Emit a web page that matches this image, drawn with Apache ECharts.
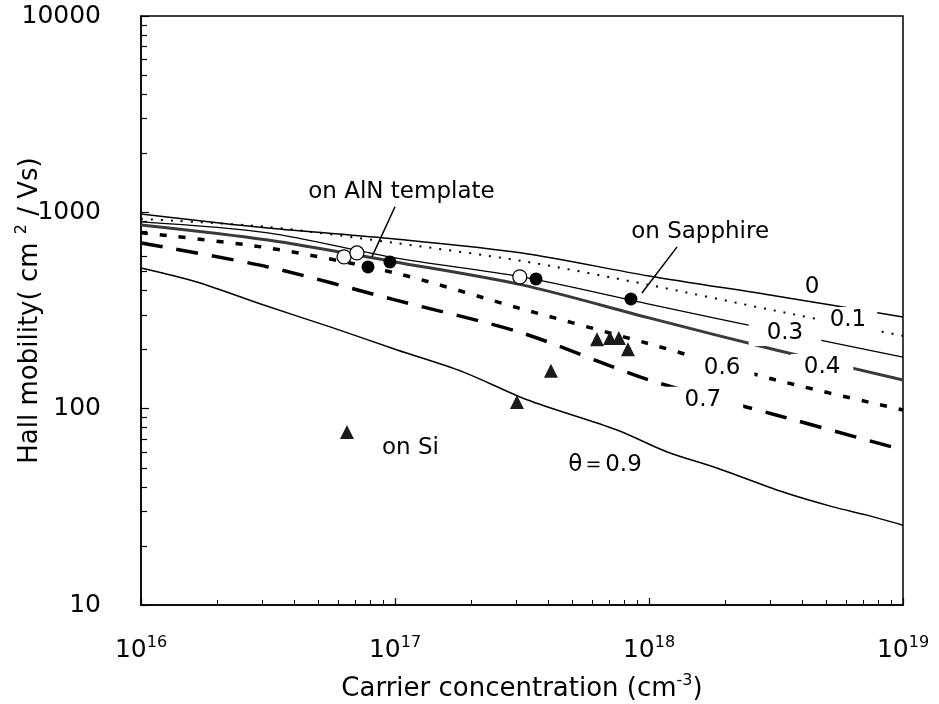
<!DOCTYPE html>
<html>
<head>
<meta charset="utf-8">
<script src="https://cdn.jsdelivr.net/npm/echarts@6/dist/echarts.min.js"></script>
<style>html,body{margin:0;padding:0;background:#fff}#c{width:939px;height:704px}</style>
</head>
<body>
<div id="c"></div>
<script>
// ---- data ----
const conc = [1e16, 3.162e16, 1e17, 3.162e17, 1e18, 3.162e18, 1e19];
const muTheta0  = [982, 832, 732, 621, 474, 375, 293];
const muTheta01 = [925, 842, 698, 565, 427, 315, 235];
const muTheta03 = [894, 786, 586, 469, 341, 249, 183];
const muTheta04 = [863, 723, 559, 427, 290, 199, 140];
const muTheta06 = [786, 659, 491, 322, 214, 140, 98.5];
const muTheta07 = [698, 527, 358, 243, 140, 92.9, 61.6];
const conc09 = [1e16, 1.66e16, 3.02e16, 5.55e16, 1.02e17, 1.85e17, 3.31e17, 7.48e17, 1.18e18, 1.85e18, 3.37e18, 5.30e18, 7.21e18, 1e19];
const muTheta09 = [521, 442, 338, 261, 199, 154, 111, 77.9, 60.2, 49.9, 37.6, 31.6, 28.7, 25.5];

const alnConc = [6.30e16, 7.08e16, 3.10e17];
const alnMu   = [593, 621, 469];
const sapConc = [7.83e16, 9.55e16, 3.59e17, 8.49e17];
const sapMu   = [527, 559, 458, 362];
const siConc  = [6.47e16, 3.02e17, 4.11e17, 6.24e17, 7.02e17, 7.61e17, 8.26e17];
const siMu    = [76.1, 108, 156, 226, 229, 229, 201];

const xTickExp = [16, 17, 18, 19];
const yTickLabels = ['10', '100', '1000', '10000'];

// annotation texts (anchor in data space)
const curveLabelText = ['0', '0.1', '0.3', '0.4', '0.6', '0.7', 'θ＝0.9', 'on Si', 'on AlN template', 'on Sapphire'];
const curveLabelConc = [4.39e18, 6.07e18, 3.43e18, 4.80e18, 1.94e18, 1.63e18, 6.71e17, 1.15e17, 1.06e17, 1.59e18];
const curveLabelMu   = [417, 283, 243, 163, 161, 111, 51.6, 63, 1270, 794];
const curveLabelPad  = [0, 11, 18, 13, 14, 22, 0, 0, 0, 0];

const pointerFrom = [[1e17, 1067], [1.29e18, 667]];
const pointerTo   = [[8.11e16, 593], [9.38e17, 388]];

// ---- build ----
const FONT = 'DejaVu Sans';
const pairs = (xs, ys) => xs.map((x, i) => [x, ys[i]]);
const minorX = [], minorY = [];
for (let d = 16; d < 19; d++) for (let k = 2; k <= 9; k++) minorX.push(d + Math.log10(k));
for (let d = 1; d < 4; d++) for (let k = 2; k <= 9; k++) minorY.push(d + Math.log10(k));

function lineSeries(name, xs, ys, style) {
  return {
    name, type: 'line', xAxisIndex: 0, yAxisIndex: 0,
    data: pairs(xs, ys), showSymbol: false, symbol: 'none', smooth: 0.3,
    lineStyle: Object.assign({ color: '#000', width: 1.5 }, style), z: 2, silent: true
  };
}

const labelData = curveLabelText.map((t, i) => ({
  value: [curveLabelConc[i], curveLabelMu[i]], name: t,
  label: {
    padding: [1, curveLabelPad[i]],
    backgroundColor: curveLabelPad[i] > 0 ? '#fff' : 'transparent'
  }
}));

const supRich = (base) => ({
  b: { fontSize: base, fontFamily: FONT, color: '#000', lineHeight: base + 6 },
  s: { fontSize: Math.round(base * 0.62), fontFamily: FONT, color: '#000', verticalAlign: 'top', lineHeight: Math.round(base * 0.62) + 1 }
});

const option = {
  animation: false,
  backgroundColor: '#fff',
  textStyle: { fontFamily: FONT },
  grid: { left: 141, right: 36, top: 16, bottom: 99, outerBoundsMode: 'none', containLabel: false, show: true, borderColor: '#000', borderWidth: 1.5, backgroundColor: 'transparent' },
  xAxis: [{
    type: 'log', logBase: 10, min: 1e16, max: 1e19, gridIndex: 0,
    axisLine: { lineStyle: { color: '#000', width: 1.5 } },
    axisTick: { inside: true, length: 7, lineStyle: { color: '#000', width: 1.2 } },
    splitLine: { show: false },
    axisLabel: {
      margin: 30, color: '#000',
      formatter: v => { const e = Math.round(Math.log10(v)); return xTickExp.includes(e) ? '{b|10}{s|' + e + '}' : ''; },
      rich: supRich(25)
    },
    name: '{b|Carrier concentration (cm}{s|-3}{b|)}', nameLocation: 'middle', nameGap: 68, nameMoveOverlap: false,
    nameTextStyle: { rich: supRich(26) }
  }, {
    type: 'value', min: 16, max: 19, gridIndex: 0, position: 'bottom',
    axisLine: { show: false }, axisLabel: { show: false }, splitLine: { show: false },
    axisTick: { show: true, inside: true, length: 5, customValues: minorX, lineStyle: { color: '#000', width: 1 } }
  }],
  yAxis: [{
    type: 'log', logBase: 10, min: 10, max: 10000, gridIndex: 0,
    axisLine: { lineStyle: { color: '#000', width: 1.5 } },
    axisTick: { inside: true, length: 8, lineStyle: { color: '#000', width: 1.2 } },
    splitLine: { show: false },
    axisLabel: {
      margin: 40, color: '#000', fontSize: 25, fontFamily: FONT,
      formatter: v => { const i = Math.round(Math.log10(v)) - 1; return yTickLabels[i] || ''; }
    },
    name: '{b|Hall mobility( cm }{s|2}{b| / Vs)}', nameLocation: 'middle', nameGap: 95, nameRotate: 90, nameMoveOverlap: false,
    nameTextStyle: { rich: supRich(26) }
  }, {
    type: 'value', min: 1, max: 4, gridIndex: 0, position: 'left',
    axisLine: { show: false }, axisLabel: { show: false }, splitLine: { show: false },
    axisTick: { show: true, inside: true, length: 6, customValues: minorY, lineStyle: { color: '#000', width: 1.2 } }
  }],
  series: [
    lineSeries('θ=0', conc, muTheta0, { width: 1.5 }),
    lineSeries('θ=0.1', conc, muTheta01, { width: 2, type: [2, 8] }),
    lineSeries('θ=0.3', conc, muTheta03, { width: 1.3 }),
    lineSeries('θ=0.4', conc, muTheta04, { width: 3, color: '#3a3a3a' }),
    lineSeries('θ=0.6', conc, muTheta06, { width: 3.5, type: [7, 12] }),
    lineSeries('θ=0.7', conc, muTheta07, { width: 3.5, type: [22, 14] }),
    lineSeries('θ=0.9', conc09, muTheta09, { width: 1.5 }),
    {
      name: 'on AlN template', type: 'scatter', xAxisIndex: 0, yAxisIndex: 0, z: 4,
      data: pairs(alnConc, alnMu), symbol: 'circle', symbolSize: 14,
      itemStyle: { color: '#fff', borderColor: '#000', borderWidth: 1.2, opacity: 1 }
    },
    {
      name: 'on Sapphire', type: 'scatter', xAxisIndex: 0, yAxisIndex: 0, z: 4,
      data: pairs(sapConc, sapMu), symbol: 'circle', symbolSize: 13,
      itemStyle: { color: '#000', opacity: 1 }
    },
    {
      name: 'on Si', type: 'scatter', xAxisIndex: 0, yAxisIndex: 0, z: 4,
      data: pairs(siConc, siMu), symbol: 'triangle', symbolSize: [14, 14],
      itemStyle: { color: '#1a1a1a', opacity: 1 }
    },
    {
      name: 'labels', type: 'scatter', xAxisIndex: 0, yAxisIndex: 0, z: 6, silent: true,
      symbolSize: 0, data: labelData, itemStyle: { opacity: 1 },
      label: { show: true, position: 'inside', formatter: '{b}', color: '#000', textBorderWidth: 0, fontSize: 23, fontFamily: FONT, lineHeight: 24 },
      markLine: {
        silent: true, symbol: 'none', label: { show: false },
        lineStyle: { color: '#000', width: 1.5, type: 'solid', opacity: 1 },
        data: pointerFrom.map((p, i) => [{ coord: p }, { coord: pointerTo[i] }])
      }
    }
  ]
};

const chart = echarts.init(document.getElementById('c'), null, { renderer: 'canvas' });
chart.setOption(option);
</script>
</body>
</html>
